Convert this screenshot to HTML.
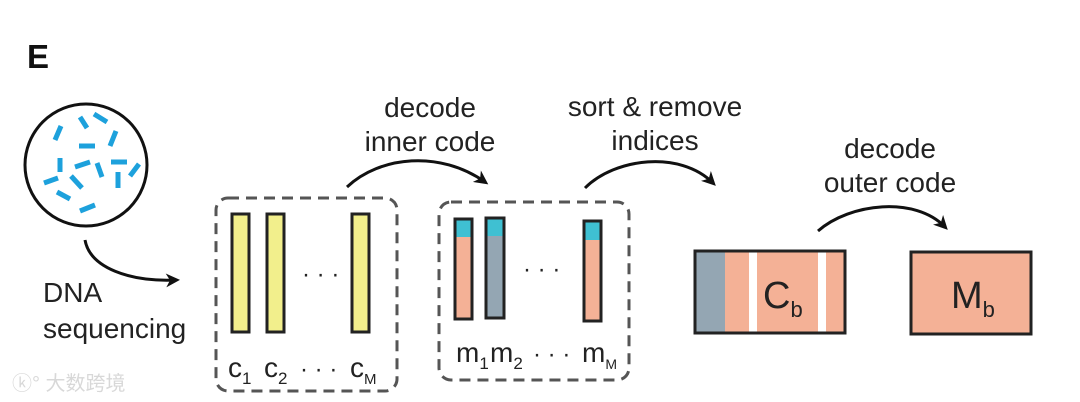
<!DOCTYPE html>
<html><head><meta charset="utf-8"><style>
html,body{margin:0;padding:0;background:#fff;}
svg{display:block;}
text{font-family:"Liberation Sans",Arial,sans-serif;fill:#222;}
</style></head><body>
<svg width="1080" height="402" viewBox="0 0 1080 402" xmlns="http://www.w3.org/2000/svg">
<defs>
<marker id="ah" markerWidth="16" markerHeight="14" refX="10" refY="7" orient="auto" markerUnits="userSpaceOnUse">
<path d="M0,0 L14,7 L0,14 L4,7 Z" fill="#111"/>
</marker>
</defs>
<text x="27" y="68" font-size="33" font-weight="bold" style="fill:#111">E</text>

<circle cx="86" cy="165" r="61" fill="#fff" stroke="#111" stroke-width="3"/>
<g stroke="#1da1dc" stroke-width="5">
<line x1="80" y1="117" x2="87" y2="128"/>
<line x1="94" y1="114" x2="107" y2="122"/>
<line x1="61" y1="126" x2="55" y2="140"/>
<line x1="116" y1="131" x2="110" y2="146"/>
<line x1="79" y1="146" x2="95" y2="146"/>
<line x1="60" y1="158" x2="60" y2="172"/>
<line x1="75" y1="167" x2="90" y2="162"/>
<line x1="97" y1="163" x2="102" y2="177"/>
<line x1="111" y1="162" x2="127" y2="162"/>
<line x1="139" y1="164" x2="130" y2="176"/>
<line x1="71" y1="176" x2="82" y2="188"/>
<line x1="118" y1="172" x2="118" y2="188"/>
<line x1="44" y1="183" x2="58" y2="178"/>
<line x1="57" y1="192" x2="70" y2="199"/>
<line x1="80" y1="211" x2="95" y2="205"/>
</g>
<path d="M85,240 C90,268 130,282 176,280" fill="none" stroke="#111" stroke-width="3" marker-end="url(#ah)"/>
<text x="43" y="302" font-size="28">DNA</text>
<text x="43" y="338" font-size="28">sequencing</text>

<rect x="216" y="198" width="181" height="193" rx="12" fill="none" stroke="#555" stroke-width="3" stroke-dasharray="11,7"/>
<g fill="#f2ef8c" stroke="#222" stroke-width="3">
<rect x="232" y="214" width="17" height="118"/>
<rect x="267" y="214" width="17" height="118"/>
<rect x="352" y="214" width="17" height="118"/>
</g>
<text x="302" y="282" font-size="24">· · ·</text>
<text x="228" y="377" font-size="28">c<tspan font-size="17" dy="7">1</tspan></text>
<text x="264" y="377" font-size="28">c<tspan font-size="17" dy="7">2</tspan></text>
<text x="300" y="377" font-size="24">· · ·</text>
<text x="350" y="377" font-size="28">c<tspan font-size="15" dy="7">M</tspan></text>

<path d="M347,187 C380,156 440,150 485,182" fill="none" stroke="#111" stroke-width="3" marker-end="url(#ah)"/>
<text x="430" y="117" font-size="28" text-anchor="middle">decode</text>
<text x="430" y="151" font-size="28" text-anchor="middle">inner code</text>

<rect x="439" y="202" width="190" height="178" rx="12" fill="none" stroke="#555" stroke-width="3" stroke-dasharray="11,7"/>
<rect x="455" y="219" width="17" height="100" fill="#f4b196"/>
<rect x="455" y="219" width="17" height="18" fill="#3fc0d2"/>
<rect x="455" y="219" width="17" height="100" fill="none" stroke="#222" stroke-width="3"/>
<rect x="486" y="218" width="18" height="100" fill="#94a6b3"/>
<rect x="486" y="218" width="18" height="18" fill="#3fc0d2"/>
<rect x="486" y="218" width="18" height="100" fill="none" stroke="#222" stroke-width="3"/>
<rect x="584" y="221" width="17" height="100" fill="#f4b196"/>
<rect x="584" y="221" width="17" height="19" fill="#3fc0d2"/>
<rect x="584" y="221" width="17" height="100" fill="none" stroke="#222" stroke-width="3"/>
<text x="523" y="277" font-size="24">· · ·</text>
<text x="456" y="362" font-size="28">m<tspan font-size="17" dy="7">1</tspan></text>
<text x="490" y="362" font-size="28">m<tspan font-size="17" dy="7">2</tspan></text>
<text x="533" y="362" font-size="24">· · ·</text>
<text x="582" y="362" font-size="28">m<tspan font-size="14" dy="7">M</tspan></text>

<path d="M585,188 C615,158 680,150 713,183" fill="none" stroke="#111" stroke-width="3" marker-end="url(#ah)"/>
<text x="655" y="116" font-size="28" text-anchor="middle">sort &amp; remove</text>
<text x="655" y="150" font-size="28" text-anchor="middle">indices</text>

<rect x="695" y="251" width="150" height="82" fill="#f4b196"/>
<rect x="695" y="251" width="30" height="82" fill="#94a6b3"/>
<rect x="749" y="251" width="8" height="82" fill="#fff"/>
<rect x="818" y="251" width="8" height="82" fill="#fff"/>
<rect x="695" y="251" width="150" height="82" fill="none" stroke="#222" stroke-width="3"/>
<text x="763" y="308" font-size="38">C<tspan font-size="22" dy="9">b</tspan></text>

<path d="M818,231 C850,203 915,196 945,227" fill="none" stroke="#111" stroke-width="3" marker-end="url(#ah)"/>
<text x="890" y="158" font-size="28" text-anchor="middle">decode</text>
<text x="890" y="192" font-size="28" text-anchor="middle">outer code</text>

<rect x="911" y="252" width="120" height="82" fill="#f4b196" stroke="#222" stroke-width="3"/>
<text x="951" y="308" font-size="38">M<tspan font-size="22" dy="9">b</tspan></text>

<text x="12" y="390" font-size="20" style="fill:#d8d8d8;font-family:'Liberation Sans','Noto Sans CJK SC',sans-serif">ⓚ° 大数跨境</text>
</svg>
</body></html>
